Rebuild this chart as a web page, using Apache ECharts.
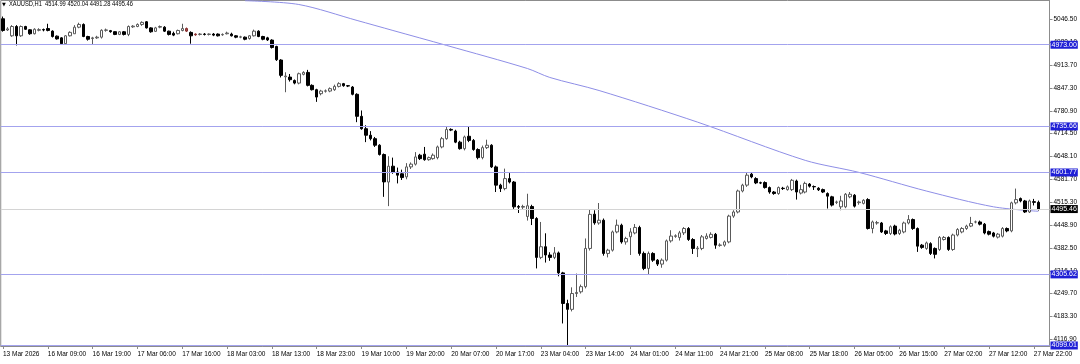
<!DOCTYPE html>
<html><head><meta charset="utf-8">
<script src="https://cdn.jsdelivr.net/npm/echarts@6/dist/echarts.min.js"></script>
<style>html,body{margin:0;padding:0;background:#fff}#c{width:1080px;height:364px}</style>
</head><body><div id="c"></div>
<script>
// ---- tick labels ----
const xTickLabels = ['13 Mar 2026','16 Mar 09:00','16 Mar 19:00','17 Mar 06:00','17 Mar 16:00','18 Mar 03:00','18 Mar 13:00','18 Mar 23:00','19 Mar 10:00','19 Mar 20:00','20 Mar 07:00','20 Mar 17:00','23 Mar 04:00','23 Mar 14:00','24 Mar 01:00','24 Mar 11:00','24 Mar 21:00','25 Mar 08:00','25 Mar 18:00','26 Mar 05:00','26 Mar 15:00','27 Mar 02:00','27 Mar 12:00','27 Mar 22:00'];
const yTicks = [4116.90,4183.30,4249.70,4316.10,4382.50,4448.90,4515.30,4581.70,4648.10,4714.50,4780.90,4847.30,4913.70,4980.10,5046.50];
const titleText = 'XAUUSD,H1  4514.99 4520.04 4491.28 4495.46';

// ---- OHLC (H1 bars) ----
const opens = [
5048.5,5016,4999,5026,4999,5026,5016.5,5005,5015,5017,5020,5012.6,4998,4993,4976,4999,5005,5024,5032,4997,
4991,4993,4995,5015,5014,5011,5003,5010.7,5003,5025,5026,5032,5039.8,5022,5012,5024,5024,5012.5,5006,5005,
5014.5,5020,5008.8,5002,5003,5004,5003,5004,5004,5002,5005,5004,4999,4995,4995,4991,4999,5012.5,4997,4993,
4986.5,4968,4928.6,4880,4879,4869,4861.6,4887,4892.6,4855,4842.4,4830.8,4838,4838.4,4842.4,4852,4859.9,4854,4850,4829,
4765,4729,4710,4700,4681,4654,4574,4620,4603,4598,4589,4618,4626,4652,4655,4639,4642,4645,4676,4700,
4727,4722,4690,4671,4707,4695,4668.5,4645,4674,4681,4618,4565,4555,4584,4574,4503,4501,4474,4503,4468,
4355,4386,4362,4355,4368,4310,4221,4204,4250,4255,4270,4381,4480.6,4455,4463,4366.5,4376,4429,4448.6,4400,
4415,4426,4442,4366.5,4323,4366.5,4347,4335.5,4347,4403,4416,4413,4426.4,4439,4407,4380,4381,4410,4413,4422,
4390,4390.6,4400,4475,4487,4548,4565,4597,4584,4572,4572.5,4558,4545,4540.6,4556,4552,4552,4577,4542,4545,
4568,4561,4556,4552,4540.6,4531,4515,4502,4502,4531,4535.7,4514,4512,4523,4439,4455,4455,4432,4424.5,4446,
4424.5,4429,4455,4465,4439,4390.6,4381,4395,4381,4378,4407,4413,4378,4420,4429,4439,4446,4458,4458,4451.6,
4430,4426,4414,4416.7,4439,4432,4513.5,4526,4519,4487,4517,4514.99];
const highs = [
5055,5024,5030,5030,5029,5028,5018,5021,5021,5020,5034,5015,5000,4995,5001,5012,5030,5037,5035,4999,
4996,4999,5018,5020,5016,5012,5013,5013,5029,5030,5035,5041,5042,5024,5025,5029,5027,5014,5011,5017,
5034,5023,5012,5006,5007,5007,5006,5007,5006,5006,5011,5008,5001,4999,4997,5001,5017,5015,4999,4996,
4989,4970,4931,4893,4888,4872,4892,4896,4900,4858,4845,4842,4843,4849,4857,4864,4862,4856,4853,4832,
4782,4739,4722,4705,4684,4657,4649,4645,4616,4610,4629,4631,4661,4656,4676,4648,4657,4680,4705,4734,
4730,4726,4694,4709,4735,4699,4672,4680,4697,4684,4622,4569,4613,4600,4577,4507,4508,4540,4508,4472,
4458,4425,4370,4385,4372,4313,4232,4268,4308,4276,4410,4495,4492,4513,4468,4380,4433,4465,4453,4415,
4440,4452,4447,4372,4372,4370,4350,4352,4407,4434,4422,4432,4443,4443,4411,4388,4420,4425,4428,4426,
4396,4404,4479,4492,4552,4569,4600.4,4602,4588,4575,4576,4561,4548,4561,4560,4564,4583,4581,4566,4575,
4571,4564,4559,4555,4544,4534,4520,4534,4542,4545,4539,4520,4524,4527,4462,4461,4458,4435,4448,4450,
4438,4459,4478,4468,4442,4394,4401,4399,4384,4417,4417,4416,4424,4440,4443,4450,4472.7,4462,4462,4455,
4433,4429,4426,4443,4442,4517,4555,4529,4522,4523,4525,4520.04];
const lows = [
5011,5013,4996,4971,4996,5016,5002,5003,5012,5012,5012,4994,4988,4973,4973,4997,5005,5021,4995,4985,
4975,4990,4991,5011,5008,5001,5001,5000,4998,5022,5024,5028,5020,5008,5010,5021,5010,5000,4998,5003,
5012,5010,4976,4999,5000,5000,5000,4998,4997,4999,5003,4997,4992,4992,4986,4988,4997,4995,4986,4984,
4962,4926,4878,4835,4866,4858,4858,4884,4852,4840,4807,4826,4834,4835,4839,4849,4851,4850,4826,4748,
4726,4690,4695,4676,4651,4531,4504,4598,4570,4580,4582,4612,4622,4638,4636,4636,4639,4640,4672,4697,
4722,4687,4668,4666,4690,4665,4640,4640,4670,4615,4545,4545,4550,4570,4496,4484,4495,4462,4449,4323,
4350,4340,4345,4350,4300,4163,4099.01,4198,4240,4250,4265,4375,4450,4450,4360,4355,4372,4425,4395,4392,
4362,4422,4360,4318,4306,4342,4330,4325,4343,4398,4412,4404,4420,4403,4365,4356,4376,4407,4410,4380,
4386,4386,4396,4470,4483,4544,4560,4585,4568,4568,4555,4540,4537,4537,4551,4549,4548,4523,4538,4541,
4558,4551,4548,4542,4497,4503,4510,4492,4498,4527,4500,4508,4509,4436,4425,4450,4426,4420,4420,4419,
4420,4425,4451,4435,4371,4380,4377,4362,4352,4374,4404,4374,4374,4416,4425,4435,4443,4454,4448,4422,
4419,4413,4410,4413,4428,4428,4509,4515,4484,4484,4506,4491.28];
const closes = [
5014.5,5019,5026,4999,5026,5018,5005,5018,5017,5016,5014.6,4997,4990,4976,4999,5009,5024,5032,4997,4989,
4993,4995,5015,5016,5011,5003,5010.7,5003,5026,5027,5032,5038,5022,5010.7,5022,5026,5012.5,5003,5001,5014.5,
5020,5012.6,4999,5004,5004,5003,5004,5001,4999,5003,5007,4999,4995,4996,4989,4999,5012.5,4997,4989,4987,
4965,4929.5,4884,4882,4871.5,4861.6,4888.8,4892.6,4855,4842.4,4821,4838.4,4839,4845.4,4852,4859.9,4854,4853,4829,4765,
4729,4710,4700,4681,4654,4574.4,4620,4603,4594,4587,4618,4626,4647,4642,4639,4645,4652,4676,4700,4726.6,
4725,4690,4671,4705,4695,4668.5,4645,4674,4681,4618,4565,4555,4584,4574,4502,4501,4503,4505,4468,4355,
4386,4362,4355,4368,4310,4221,4204,4250,4253,4270,4381,4480,4455.3,4463,4366.5,4376,4429,4448.6,4400,4410,
4429,4442,4366.5,4323,4366.5,4347,4335.5,4347,4403,4417,4418,4426.4,4439,4407,4381,4382,4414.7,4417,4422,4390.6,
4391,4400,4475,4487,4548,4565,4594,4589,4571.5,4571,4558,4545,4540.6,4558,4555,4560,4579,4545,4552,4570,
4562,4560,4551.5,4545,4533,4507,4516,4519,4538.5,4538.5,4504,4516,4521,4439,4458,4456,4429,4424.5,4444,4423,
4434,4455,4465,4439,4387.7,4384,4397,4366.5,4364,4413,4413,4378,4420,4436,4439,4446,4453.5,4458,4451.6,4426,
4422.5,4416.7,4422.5,4439,4432,4513.5,4523,4519,4487,4519,4515,4495.46];

// bars drawn in dark red on the reference
const highlightBars = [41, 43];

// ---- moving average, read at visible points (bar index, value) ----
const maIndex  = [54,   66,   79,    87,    99,   117,  122,  133,  155,  179,  191,  206,  221,  231];
const maValues = [5101, 5090, 5043.6, 5014.5, 4971, 4904, 4878, 4840, 4748, 4637, 4602, 4548, 4502, 4489];

// ---- horizontal levels ----
const levelLines = [4973.00, 4735.66, 4601.77, 4305.62, 4099.01];
const lastPrice = 4495.46;

const FONT = "'Liberation Sans', 'DejaVu Sans', sans-serif";
const N_CAT = 234;
const categories = [];
for (let i = 0; i < N_CAT; i++) categories.push(i % 10 === 0 && xTickLabels[i / 10] ? xTickLabels[i / 10] : String(i));

const candleData = opens.map((o, i) => {
  const v = [o, closes[i], lows[i], highs[i]];
  if (highlightBars.indexOf(i) >= 0) {
    return { value: v, itemStyle: { color: '#a05050', color0: '#6e1c1c', borderColor: '#8a3030', borderColor0: '#6e1c1c' } };
  }
  return v;
});
const maData = categories.map(() => null);
maIndex.forEach((ix, k) => { maData[ix] = maValues[k]; });

const levelMark = levelLines.map(v => ({
  yAxis: v,
  lineStyle: { color: '#a3a3ee', width: 1, type: 'solid' },
  label: { show: true, position: 'end', distance: 1, formatter: () => v.toFixed(2),
           color: '#fff', backgroundColor: '#1f1fd6', padding: [1, 1, 0, 1], fontSize: 7, fontFamily: FONT }
}));
levelMark.push({
  yAxis: lastPrice,
  lineStyle: { color: '#d4d4d4', width: 1, type: 'solid' },
  label: { show: true, position: 'end', distance: 1, formatter: () => lastPrice.toFixed(2),
           color: '#fff', backgroundColor: '#000', padding: [1, 1, 0, 1], fontSize: 7, fontFamily: FONT }
});

const chart = echarts.init(document.getElementById('c'), null, { renderer: 'canvas' });
chart.setOption({
  animation: false,
  backgroundColor: '#ffffff',
  grid: { left: 0.5, top: 0.5, width: 1055, height: 345.5, show: true, borderColor: '#8c8c8c', borderWidth: 1, containLabel: false },
  graphic: [
    { type: 'text', left: 2, top: 2, style: { text: '▼', fontSize: 5, fill: '#000', fontFamily: "'DejaVu Sans', sans-serif" } },
    { type: 'text', x: 9, y: 1, scaleX: 0.82, style: { text: titleText, fontSize: 7, fill: '#000', fontFamily: FONT } }
  ],
  xAxis: {
    type: 'category', data: categories, boundaryGap: true,
    axisLine: { show: true, lineStyle: { color: '#8c8c8c' } },
    axisTick: { show: true, interval: 9, alignWithLabel: true, length: 3, lineStyle: { color: '#8c8c8c' } },
    axisLabel: { show: true, interval: 9, align: 'left', margin: 5, fontSize: 6.5, color: '#000', fontFamily: FONT,
      formatter: (v, i) => (i % 10 === 0 && xTickLabels[i / 10]) ? xTickLabels[i / 10] : '' },
    splitLine: { show: false }
  },
  yAxis: {
    type: 'value', position: 'right', min: 4097.5, max: 5101.6, scale: true,
    axisLine: { show: true, lineStyle: { color: '#8c8c8c' } },
    axisTick: { show: true, customValues: yTicks, length: 3, lineStyle: { color: '#8c8c8c' } },
    axisLabel: { show: true, customValues: yTicks, margin: 4, fontSize: 6.5, color: '#000', fontFamily: FONT,
      formatter: v => Number(v).toFixed(2) },
    splitLine: { show: false }
  },
  series: [
    {
      type: 'candlestick', data: candleData, barWidth: 3,
      itemStyle: { color: '#ffffff', color0: '#000000', borderColor: '#5a5a5a', borderColor0: '#000000', borderWidth: 1 },
      markLine: { silent: true, symbol: ['none', 'none'], data: levelMark, animation: false }
    },
    {
      type: 'line', data: maData, connectNulls: true, smooth: 0.3, showSymbol: false, symbol: 'none',
      lineStyle: { color: '#8e8ee6', width: 1 }, z: 1
    }
  ]
});
</script>
</body></html>
